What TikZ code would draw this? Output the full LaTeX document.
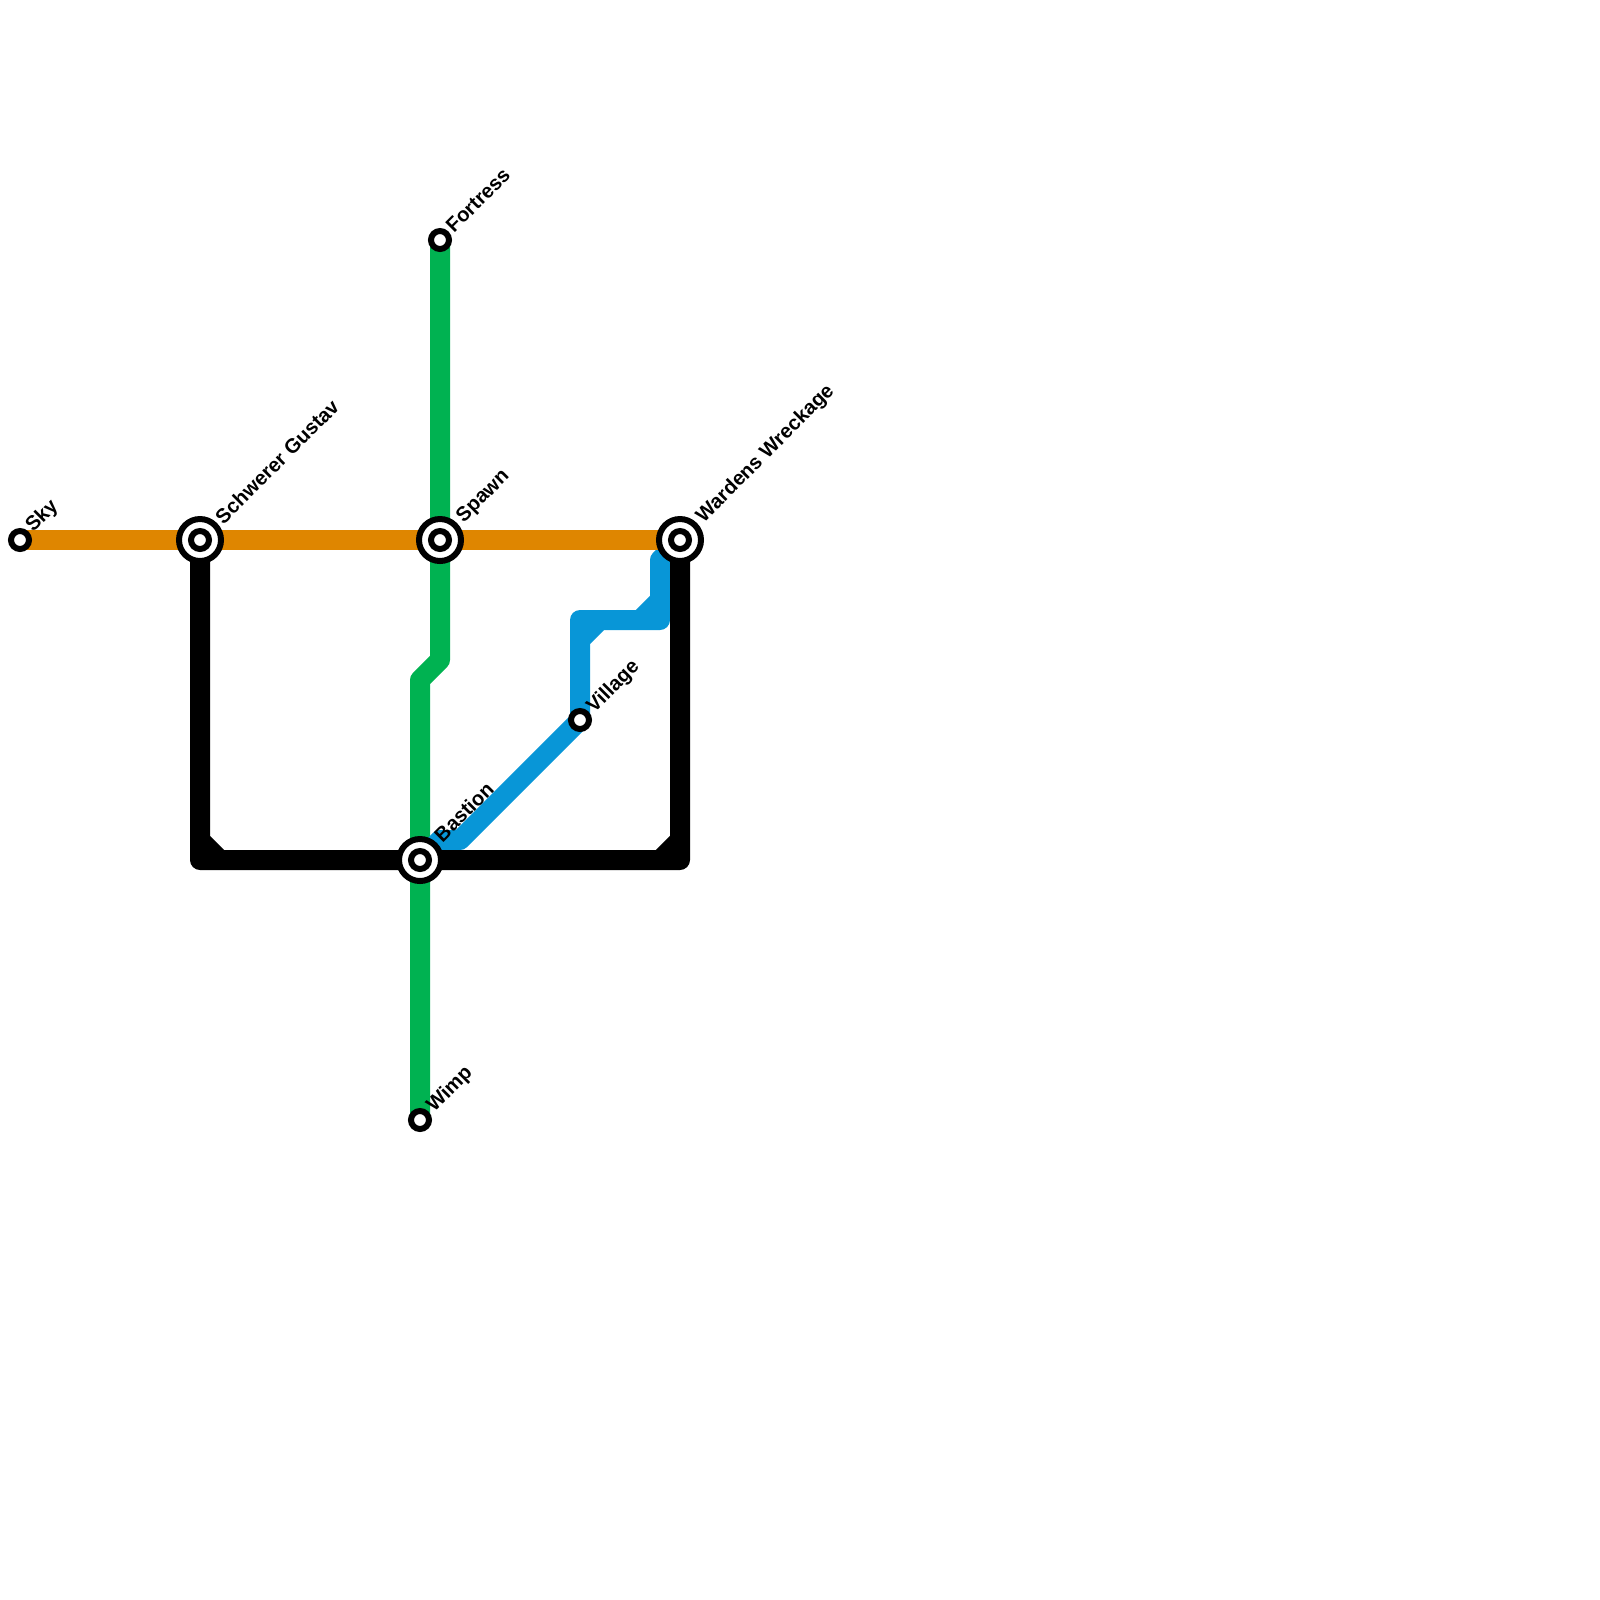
\documentclass[tikz,border=0pt]{standalone}
\usepackage{fontspec}
\setmainfont{Liberation Sans}
\usetikzlibrary{positioning, backgrounds}
\definecolor{lnorange}{HTML}{DF8600}
\definecolor{lngreen}{HTML}{00B251}
\definecolor{lnblue}{HTML}{0896D7}

\begin{document}
\begin{tikzpicture}[x=0.2cm, y=-0.2cm,
      stn/.style={circle, draw=black, fill=white, line width=0.6mm, minimum size=1.8mm, inner sep=0pt, outer sep=0pt},
      hub/.style={stn, minimum size=4.2mm},
      lbl/.style={rotate=45, inner sep=0pt, font=\fontsize{5.75}{7}\selectfont\bfseries},
      ln/.style={line width=2mm, line join=round}]
    \useasboundingbox (0,0) rectangle (80,80);
    \node[hub] (gustav) at (10,27) {};
    \node[hub] (spawn) at (22,27) {};
    \node[hub] (wardens) at (34,27) {};
    \node[hub] (bastion) at (21,43) {};
    \node[stn] (gustavin) at (gustav) {};
    \node[stn] (spawnin) at (spawn) {};
    \node[stn] (wardensin) at (wardens) {};
    \node[stn] (bastionin) at (bastion) {};
    \node[stn] (sky) at (1,27) {};
    \node[stn] (fortress) at (22,12) {};
    \node[stn] (village) at (29,36) {};
    \node[stn] (wimp) at (21,56) {};
    \node[lbl, above right=-0.3mm and 1mm of sky] (skylbl) {Sky};
    \node[lbl, above right=-0.1mm and 0.8mm of fortress] (fortresslbl) {Fortress};
    \node[lbl, above right=-0.4mm and 1.1mm of village] (villagelbl) {Village};
    \node[lbl, above right=-0.3mm and 1.1mm of wimp] (wimplbl) {Wimp};
    \node[lbl, above right=-0.1mm and 0.9mm of gustav] (gustavlbl) {Schwerer Gustav};
    \node[lbl, above right=-0.2mm and 1.2mm of spawn] (spawnlbl) {Spawn};
    \node[lbl, above right=-0.2mm and 1.2mm of wardens] (wardenslbl) {Wardens Wreckage};
    \node[lbl, above right=0.1mm and 0.8mm of bastion] (bastionlbl) {Bastion};
    \begin{pgfonlayer}{background}
      \draw[ln, lngreen] (fortress.center)--(spawn.center)--(22,33)--(21,34)--(bastion.center)--(wimp.center);
      \draw[ln, lnblue] (bastion.center)--(22,42)--(23,42)--(village.center)--(29,31)--(33,31)--(33,28)--(wardens.center) (29,32)--(30,31) (32,31)--(33,30);
      \draw[ln, black] (gustav.center)--(10,43)--(bastion.center) (10,42)--(11,43);
      \draw[ln, black] (wardens.center)--(34,43)--(bastion.center) (34,42)--(33,43);
      \draw[ln, lnorange] (sky.center)--(gustav.center)--(spawn.center)--(wardens.center);
    \end{pgfonlayer}
  \end{tikzpicture}
\end{document}
